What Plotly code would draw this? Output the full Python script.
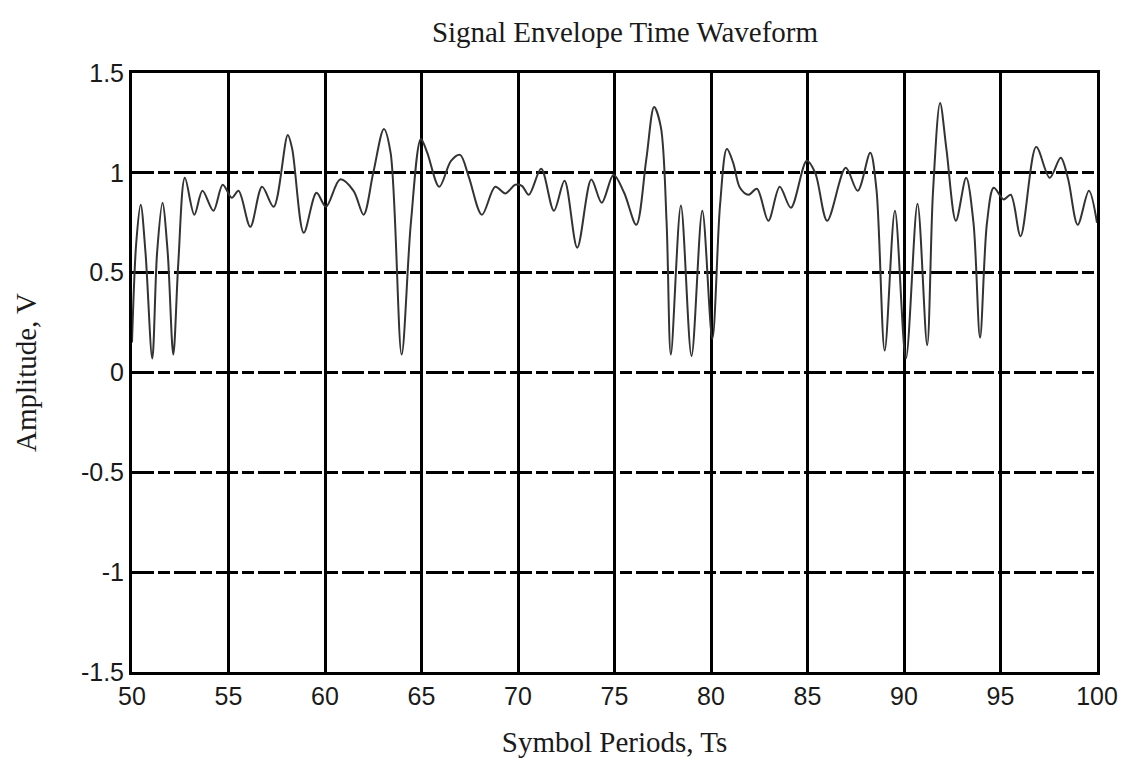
import plotly.graph_objects as go

# Symbol periods (Ts) and envelope amplitude (V)
t = [50.0, 50.22, 50.45, 50.7, 51.05, 51.3, 51.58, 51.85, 52.14, 52.4,
     52.74, 53.23, 53.65, 54.22, 54.7, 55.17, 55.52, 56.13, 56.74, 57.34,
     58.07, 58.3, 58.9, 59.56, 60.05, 60.78, 61.48, 62.0, 62.5, 63.05,
     63.4, 63.97, 64.45, 64.97, 65.3, 65.92, 66.53, 67.0, 67.45, 68.13,
     68.82, 69.34, 69.86, 70.2, 70.56, 71.2, 71.86, 72.41, 73.07, 73.8,
     74.34, 74.95, 75.5, 76.13, 76.65, 77.05, 77.4, 77.7, 77.92, 78.44,
     78.99, 79.55, 80.07, 80.47, 80.82, 81.15, 81.5, 81.94, 82.38, 82.97,
     83.56, 84.14, 84.96, 85.4, 86.02, 86.98, 87.6, 88.25, 88.57, 89.0,
     89.53, 90.1, 90.7, 91.2, 91.5, 91.87, 92.2, 92.69, 93.22, 93.6,
     93.94, 94.3, 94.65, 95.16, 95.53, 96.04, 96.85, 97.55, 98.12, 98.5,
     99.0, 99.58, 100.0]
amp = [0.15, 0.65, 0.84, 0.6, 0.07, 0.6, 0.85, 0.6, 0.09, 0.55,
       0.975, 0.79, 0.91, 0.81, 0.94, 0.875, 0.91, 0.73, 0.93, 0.83,
       1.19, 1.12, 0.70, 0.90, 0.83, 0.967, 0.91, 0.79, 1.0, 1.22,
       1.1, 0.09, 0.75, 1.17, 1.1, 0.93, 1.06, 1.09, 0.98, 0.79,
       0.93, 0.897, 0.94, 0.935, 0.89, 1.02, 0.81, 0.96, 0.625, 0.967,
       0.85, 0.99, 0.9, 0.74, 1.07, 1.33, 1.23, 0.75, 0.09, 0.837,
       0.083, 0.81, 0.17, 0.84, 1.12, 1.05, 0.925, 0.89, 0.92, 0.76,
       0.93, 0.825, 1.06, 1.0, 0.76, 1.025, 0.91, 1.10, 0.92, 0.11,
       0.81, 0.07, 0.845, 0.137, 0.9, 1.35, 1.117, 0.76, 0.975, 0.75,
       0.175, 0.75, 0.925, 0.867, 0.89, 0.683, 1.13, 0.975, 1.075, 0.97,
       0.74, 0.91, 0.75]

x_ticks = [50, 55, 60, 65, 70, 75, 80, 85, 90, 95, 100]
y_ticks = [-1.5, -1, -0.5, 0, 0.5, 1, 1.5]
y_tick_labels = ["-1.5", "-1", "-0.5", "0", "0.5", "1", "1.5"]

fig = go.Figure()
fig.add_trace(go.Scatter(
    x=t, y=amp, mode="lines",
    line=dict(color="#333333", width=2, shape="spline", smoothing=0.9),
    showlegend=False, hoverinfo="skip"))

serif = "Liberation Serif, Times New Roman, serif"
sans = "Liberation Sans, Arial, sans-serif"

fig.update_layout(
    width=1129, height=758,
    margin=dict(l=132, r=32, t=73, b=86),
    paper_bgcolor="white", plot_bgcolor="white",
    title=dict(text="Signal Envelope Time Waveform",
               font=dict(family=serif, size=29, color="#1a1a1a"),
               x=625 / 1129, xanchor="center", y=1 - 32 / 758, yanchor="middle"),
    xaxis=dict(range=[50, 100], tickvals=x_ticks, automargin=False,
               showgrid=True, gridcolor="black", gridwidth=3.2,
               showline=True, linecolor="black", linewidth=3, mirror=True,
               zeroline=False, ticks="", ticklabelstandoff=0,
               tickfont=dict(family=sans, size=25, color="#1a1a1a"),
               title=dict(text="Symbol Periods, Ts", standoff=25,
                          font=dict(family=serif, size=29, color="#1a1a1a"))),
    yaxis=dict(range=[-1.5, 1.5], tickvals=y_ticks, ticktext=y_tick_labels,
               automargin=False,
               showgrid=True, gridcolor="black", gridwidth=2.6,
               griddash="22px,4px,12px,4px",
               showline=True, linecolor="black", linewidth=3, mirror=True,
               zeroline=False, ticks="", ticklabelstandoff=0,
               tickfont=dict(family=sans, size=25, color="#1a1a1a"),
               title=dict(text="Amplitude, V", standoff=36,
                          font=dict(family=serif, size=29, color="#1a1a1a"))),
)

fig.write_html("out.html")
